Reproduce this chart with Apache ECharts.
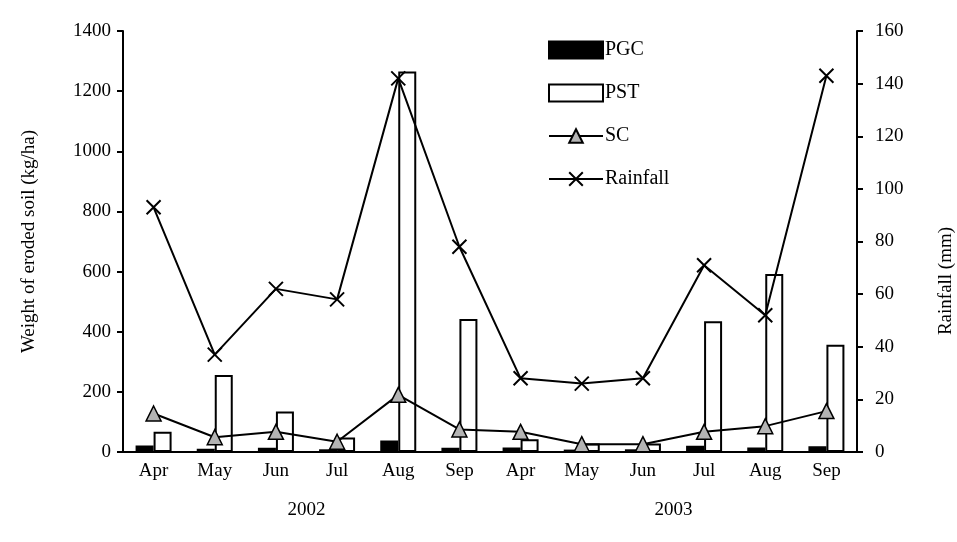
<!DOCTYPE html>
<html>
<head>
<meta charset="utf-8">
<script src="https://cdn.jsdelivr.net/npm/echarts@6/dist/echarts.min.js"></script>
<style>html,body{margin:0;padding:0;background:#fff}#c{width:957px;height:542px}</style>
</head>
<body>
<div id="c"></div>
<script>
const months = ['Apr','May','Jun','Jul','Aug','Sep','Apr','May','Jun','Jul','Aug','Sep'];
const years = ['2002','2003'];
const pgc = [22, 11, 14, 9, 38, 14, 15, 8, 9, 21, 15, 19];
const pst = [67, 256, 135, 48, 1265, 442, 42, 28, 28, 435, 592, 357];
const sc = [128, 49, 67, 34, 190, 75, 67, 26, 26, 67, 86, 136];
const rainfall = [93, 37, 62, 58, 142, 78, 28, 26, 28, 71, 52, 143];
const leftTicks = [0, 1400, 200];
const rightTicks = [0, 160, 20];

const FONT = 'Liberation Serif';
const chart = echarts.init(document.getElementById('c'), null, {renderer: 'canvas'});
const xMark = 'path://M0,0 L10,10 M10,0 L0,10';
const plain = v => String(v);
chart.setOption({
  animation: false,
  textStyle: {fontFamily: FONT, color: '#000'},
  grid: {left: 123, right: 100, top: 31, bottom: 90},
  legend: {
    orient: 'vertical', left: 543, top: 35, itemWidth: 54, itemHeight: 17, itemGap: 23,
    textStyle: {fontFamily: FONT, fontSize: 20, color: '#000', padding: [0, 0, 0, -3]},
    data: [{name: 'PGC', icon: 'rect'}, {name: 'PST', icon: 'rect'}, 'SC', 'Rainfall']
  },
  xAxis: [{
    type: 'category', data: months, position: 'bottom',
    axisLine: {lineStyle: {color: '#000', width: 2}},
    axisTick: {length: 6, lineStyle: {color: '#000', width: 2}},
    axisLabel: {fontFamily: FONT, fontSize: 19, color: '#000', margin: 10, interval: 0}
  }, {
    type: 'category', data: years, position: 'bottom', offset: 39,
    axisLine: {show: false}, axisTick: {show: false},
    axisLabel: {fontFamily: FONT, fontSize: 19, color: '#000', margin: 10}
  }],
  yAxis: [{
    type: 'value', min: leftTicks[0], max: leftTicks[1], interval: leftTicks[2],
    name: 'Weight of eroded soil (kg/ha)', nameLocation: 'middle', nameGap: 84,
    nameTextStyle: {fontFamily: FONT, fontSize: 19, color: '#000'},
    axisLine: {show: true, lineStyle: {color: '#000', width: 2}},
    axisTick: {show: true, length: 6, lineStyle: {color: '#000', width: 2}},
    axisLabel: {fontFamily: FONT, fontSize: 19, color: '#000', margin: 12, formatter: plain},
    splitLine: {show: false}
  }, {
    type: 'value', min: rightTicks[0], max: rightTicks[1], interval: rightTicks[2], position: 'right',
    axisLine: {show: true, lineStyle: {color: '#000', width: 2}},
    axisTick: {show: true, length: 6, lineStyle: {color: '#000', width: 2}},
    axisLabel: {fontFamily: FONT, fontSize: 19, color: '#000', margin: 18, formatter: plain},
    splitLine: {show: false}
  }],
  graphic: [{
    type: 'text', x: 946, y: 281, rotation: Math.PI / 2,
    style: {text: 'Rainfall (mm)', font: '19px "Liberation Serif"', fill: '#000', align: 'center', verticalAlign: 'middle'}
  }],
  series: [{
    name: 'PGC', type: 'bar', data: pgc, barWidth: 18, barGap: '0%',
    itemStyle: {color: '#000', borderColor: '#000', borderWidth: 1.5}
  }, {
    name: 'PST', type: 'bar', data: pst, barWidth: 18,
    itemStyle: {color: '#fff', borderColor: '#000', borderWidth: 2}
  }, {
    name: 'SC', type: 'line', data: sc, symbol: 'triangle', symbolSize: 15, z: 5,
    lineStyle: {color: '#000', width: 2},
    itemStyle: {color: '#b4b4b4', borderColor: '#000', borderWidth: 1.5}
  }, {
    name: 'Rainfall', type: 'line', data: rainfall, yAxisIndex: 1, symbol: xMark, symbolSize: 14, z: 6,
    lineStyle: {color: '#000', width: 2},
    itemStyle: {color: 'none', borderColor: '#000', borderWidth: 2}
  }]
});
</script>
</body>
</html>
